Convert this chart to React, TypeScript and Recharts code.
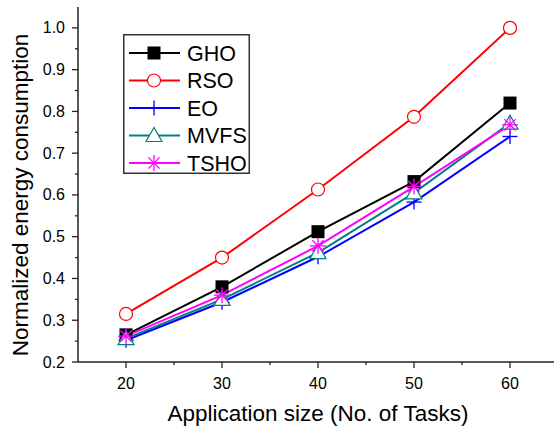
import { LineChart, Line, XAxis, YAxis, Legend } from 'recharts';

const TASKS = [20, 30, 40, 50, 60];
const GHO = [0.265, 0.38, 0.512, 0.632, 0.82];
const RSO = [0.315, 0.45, 0.613, 0.787, 1.0];
const EO = [0.252, 0.343, 0.452, 0.583, 0.74];
const MVFS = [0.256, 0.35, 0.462, 0.605, 0.772];
const TSHO = [0.262, 0.36, 0.478, 0.62, 0.768];

const X_TICKS = [20, 25, 30, 35, 40, 45, 50, 55, 60];
const Y_TICKS = [0.2, 0.25, 0.3, 0.35, 0.4, 0.45, 0.5, 0.55, 0.6, 0.65, 0.7, 0.75, 0.8, 0.85, 0.9, 0.95, 1.0];

const FONT = '"Liberation Sans", Arial, sans-serif';

type Kind = 'square' | 'circle' | 'plus' | 'triangle' | 'star';

const SERIES: { key: string; color: string; kind: Kind; values: number[] }[] = [
  { key: 'GHO', color: '#000000', kind: 'square', values: GHO },
  { key: 'RSO', color: '#ff0000', kind: 'circle', values: RSO },
  { key: 'EO', color: '#0000ff', kind: 'plus', values: EO },
  { key: 'MVFS', color: '#008080', kind: 'triangle', values: MVFS },
  { key: 'TSHO', color: '#ff00ff', kind: 'star', values: TSHO },
];

const chartData = TASKS.map((t, i) => {
  const row: Record<string, number> = { tasks: t };
  SERIES.forEach((s) => {
    row[s.key] = s.values[i];
  });
  return row;
});

function Marker({ kind, color, cx, cy }: { kind: Kind; color: string; cx: number; cy: number }) {
  switch (kind) {
    case 'square':
      return <rect x={cx - 6.5} y={cy - 6.5} width={13} height={13} fill={color} />;
    case 'circle':
      return <circle cx={cx} cy={cy} r={6.5} fill="#fff" stroke={color} strokeWidth={1.2} />;
    case 'plus':
      return (
        <g stroke={color} strokeWidth={1.3}>
          <line x1={cx - 7.5} y1={cy} x2={cx + 7.5} y2={cy} />
          <line x1={cx} y1={cy - 7.5} x2={cx} y2={cy + 7.5} />
        </g>
      );
    case 'triangle':
      return (
        <polygon
          points={`${cx},${cy - 8} ${cx - 8},${cy + 6} ${cx + 8},${cy + 6}`}
          fill="#fff"
          stroke={color}
          strokeWidth={1.2}
        />
      );
    default: {
      const r = 8;
      const d = r * 0.7071;
      return (
        <g stroke={color} strokeWidth={1.3}>
          <line x1={cx - r} y1={cy} x2={cx + r} y2={cy} />
          <line x1={cx} y1={cy - r} x2={cx} y2={cy + r} />
          <line x1={cx - d} y1={cy - d} x2={cx + d} y2={cy + d} />
          <line x1={cx - d} y1={cy + d} x2={cx + d} y2={cy - d} />
        </g>
      );
    }
  }
}

// ticks drawn by hand so minor ticks get no label
function XTick({ x, y, payload }: any) {
  const major = payload.value % 10 === 0;
  return (
    <g>
      <line x1={x} y1={y} x2={x} y2={y + (major ? 6 : 3)} stroke="#222" strokeWidth={1.3} />
      {major && (
        <text x={x} y={y + 26.5} textAnchor="middle" fontSize={16} fontFamily={FONT} fill="#000">
          {payload.value}
        </text>
      )}
    </g>
  );
}

function YTick({ x, y, payload }: any) {
  const v = payload.value;
  const major = Math.abs(v * 10 - Math.round(v * 10)) < 1e-6;
  return (
    <g>
      <line x1={x} y1={y} x2={x - (major ? 6 : 3)} y2={y} stroke="#222" strokeWidth={1.3} />
      {major && (
        <text x={x - 13} y={y + 5.5} textAnchor="end" fontSize={16} fontFamily={FONT} fill="#000">
          {v.toFixed(1)}
        </text>
      )}
    </g>
  );
}

const ROW_Y = [19, 46.5, 74, 101.5, 129];

function LegendBox() {
  return (
    <svg width={127} height={140} style={{ display: 'block' }}>
      <rect x={0.75} y={0.75} width={125.5} height={138.5} fill="#fff" stroke="#333" strokeWidth={1.5} />
      {SERIES.map((s, i) => (
        <g key={s.key}>
          <line x1={6} y1={ROW_Y[i]} x2={57} y2={ROW_Y[i]} stroke={s.color} strokeWidth={2} />
          <Marker kind={s.kind} color={s.color} cx={31} cy={ROW_Y[i]} />
          <text x={64} y={ROW_Y[i] + 7.5} fontSize={21.5} fontFamily={FONT} fill="#000">
            {s.key}
          </text>
        </g>
      ))}
    </svg>
  );
}

export default function App() {
  return (
    <div style={{ position: 'absolute', left: 0, top: 0, width: 554, height: 428, overflow: 'hidden', background: '#fff' }}>
      <LineChart width={570} height={428} data={chartData} margin={{ top: 7, right: 12, left: 0, bottom: 0 }}>
        <XAxis
          dataKey="tasks"
          type="number"
          domain={[15, 65]}
          ticks={X_TICKS}
          tick={<XTick />}
          tickLine={false}
          tickSize={0}
          tickMargin={0}
          height={66}
          axisLine={{ stroke: '#222', strokeWidth: 1.5 }}
          interval={0}
          label={{
            content: () => (
              <text x={318} y={420.5} textAnchor="middle" fontSize={22.5} fontFamily={FONT} fill="#000">
                Application size (No. of Tasks)
              </text>
            ),
          }}
        />
        <XAxis
          xAxisId="top"
          orientation="top"
          type="number"
          domain={[15, 65]}
          height={0}
          tick={false}
          tickLine={false}
          axisLine={{ stroke: '#222', strokeWidth: 1.5 }}
        />
        <YAxis
          type="number"
          domain={[0.2, 1.05]}
          ticks={Y_TICKS}
          tick={<YTick />}
          tickLine={false}
          tickSize={0}
          tickMargin={0}
          width={78}
          interval={0}
          axisLine={{ stroke: '#222', strokeWidth: 1.5 }}
          label={{
            content: () => (
              <text
                x={28}
                y={195}
                transform="rotate(-90, 28, 195)"
                textAnchor="middle"
                fontSize={22.5}
                fontFamily={FONT}
                fill="#000"
              >
                Normalized energy consumption
              </text>
            ),
          }}
        />
        <Legend
          layout="horizontal"
          verticalAlign="middle"
          align="center"
          content={() => <LegendBox />}
          wrapperStyle={{ left: 123, top: 34, width: 127, height: 140 }}
        />
        {SERIES.map((s) => (
          <Line
            key={s.key}
            type="linear"
            dataKey={s.key}
            stroke={s.color}
            strokeWidth={2}
            isAnimationActive={false}
            activeDot={false}
            dot={(p: any) => <Marker key={`${s.key}-${p.index}`} kind={s.kind} color={s.color} cx={p.cx} cy={p.cy} />}
          />
        ))}
      </LineChart>
    </div>
  );
}
